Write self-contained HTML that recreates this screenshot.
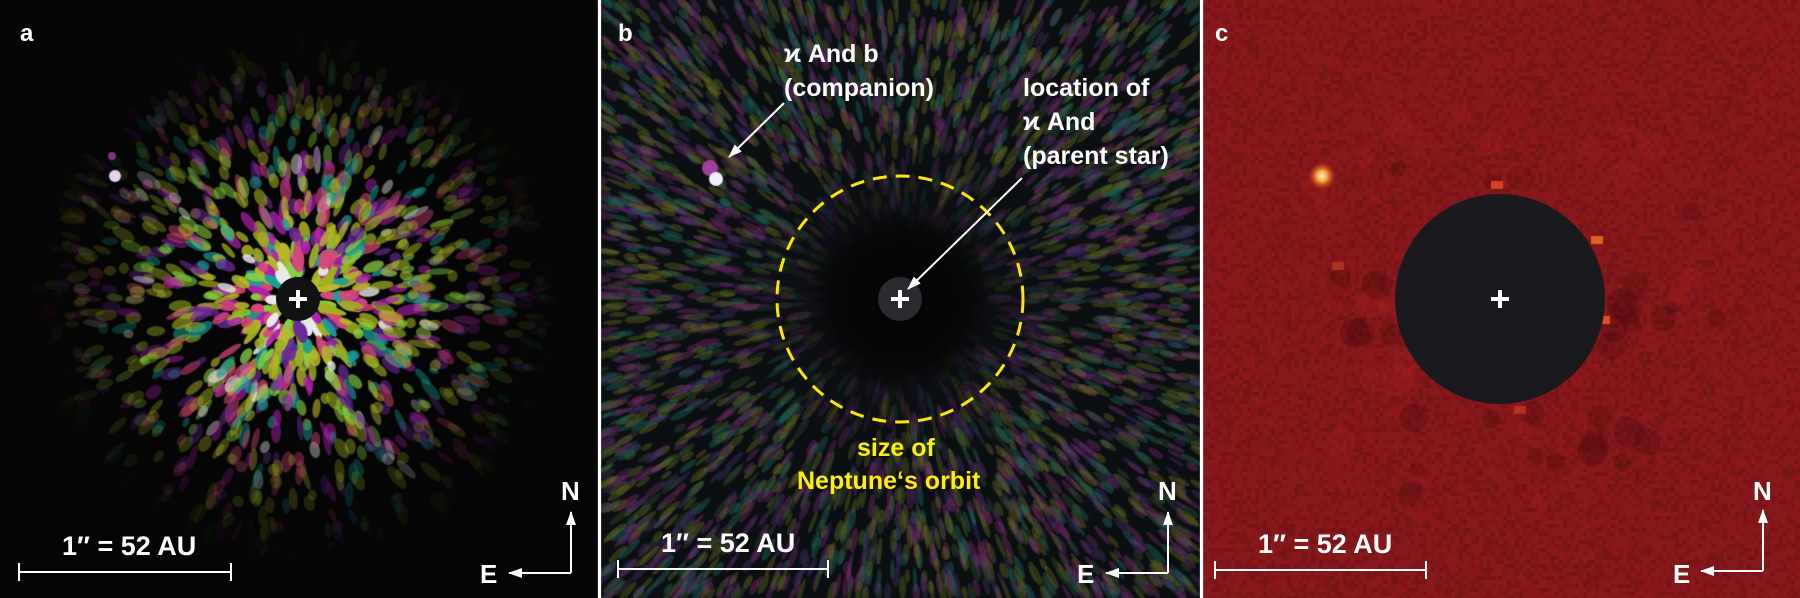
<!DOCTYPE html>
<html><head><meta charset="utf-8"><style>
html,body{margin:0;padding:0;background:#fff}
#w{position:relative;width:1800px;height:598px;overflow:hidden;background:#fff}
canvas{position:absolute;left:0;top:0}
.t{position:absolute;font-family:"Liberation Sans",sans-serif;font-weight:bold;color:#fff;white-space:nowrap;line-height:1}
.y{color:#ffef00}
svg{position:absolute;left:0;top:0}
</style></head><body><div id="w">
<canvas id="c" width="1800" height="598"></canvas>
<svg width="1800" height="598" viewBox="0 0 1800 598">
<defs><marker id="ah2" markerWidth="14" markerHeight="10" refX="13" refY="5" orient="auto" markerUnits="userSpaceOnUse"><path d="M0,0 L14,5 L0,10 Z" fill="#fff"/></marker></defs>
<rect x="598" y="0" width="3" height="598" fill="#fff"/>
<rect x="1200" y="0" width="3" height="598" fill="#fff"/>
<circle cx="298" cy="299" r="22" fill="#111"/>
<circle cx="900" cy="299" r="22" fill="#2a2a2e"/>
<circle cx="1500" cy="299" r="105" fill="#1a191d"/>
<g stroke="#fff" stroke-width="4">
<path d="M289,299h18M298,290v18"/><path d="M891,299h18M900,290v18"/><path d="M1491,299h18M1500,290v18"/>
</g>
<circle cx="900" cy="299" r="123" fill="none" stroke="#ffe600" stroke-width="3" stroke-dasharray="14,9"/>
<g stroke="#fff" stroke-width="2" fill="none">
<path d="M19,572H231M19,563v18M231,563v18"/>
<path d="M618,569H828M618,560v18M828,560v18"/>
<path d="M1215,570H1426M1215,561v18M1426,561v18"/>
<path d="M571,573V512" marker-end="url(#ah2)"/><path d="M571,573H509" marker-end="url(#ah2)"/>
<path d="M1168,573V512" marker-end="url(#ah2)"/><path d="M1168,573H1106" marker-end="url(#ah2)"/>
<path d="M1763,571V510" marker-end="url(#ah2)"/><path d="M1763,571H1701" marker-end="url(#ah2)"/>
<path d="M784,103L729,157" marker-end="url(#ah2)"/>
<path d="M1022,178L908,289" marker-end="url(#ah2)"/>
</g>
</svg>
<div class="t" style="left:20px;top:22px;font-size:24px">a</div>
<div class="t" style="left:618px;top:22px;font-size:24px">b</div>
<div class="t" style="left:1215px;top:22px;font-size:24px">c</div>
<div class="t" style="left:62px;top:533px;font-size:27px">1″ = 52 AU</div>
<div class="t" style="left:661px;top:530px;font-size:27px">1″ = 52 AU</div>
<div class="t" style="left:1258px;top:531px;font-size:27px">1″ = 52 AU</div>
<div class="t" style="left:561px;top:478px;font-size:26px">N</div>
<div class="t" style="left:480px;top:561px;font-size:26px">E</div>
<div class="t" style="left:1158px;top:478px;font-size:26px">N</div>
<div class="t" style="left:1077px;top:561px;font-size:26px">E</div>
<div class="t" style="left:1753px;top:478px;font-size:26px">N</div>
<div class="t" style="left:1673px;top:561px;font-size:26px">E</div>
<div class="t" style="left:784px;top:42px;font-size:25px">ϰ And b</div>
<div class="t" style="left:784px;top:76px;font-size:25px">(companion)</div>
<div class="t" style="left:1023px;top:76px;font-size:25px">location of</div>
<div class="t" style="left:1023px;top:110px;font-size:25px">ϰ And</div>
<div class="t" style="left:1023px;top:144px;font-size:25px">(parent star)</div>
<div class="t y" style="left:857px;top:436px;font-size:25px">size of</div>
<div class="t y" style="left:797px;top:469px;font-size:25px">Neptune‘s orbit</div>
</div>
<script>
(function(){
var c=document.getElementById('c').getContext('2d');
var s=12345;function r(){s=(s*16807)%2147483647;return s/2147483647;}
// panel a
c.fillStyle='#050505';c.fillRect(0,0,598,598);
var colsA=['#b020b0','#a0b020','#18a098','#d84878','#88d040','#e8e8e8','#6a2a9a','#b8b828'];
c.save();c.beginPath();c.rect(0,0,598,598);c.clip();
for(var i=0;i<1400;i++){var a=r()*6.283,d=25+Math.pow(r(),0.9)*250;var x=298+Math.cos(a)*d,y=299+Math.sin(a)*d;
var al=Math.max(0,1-d/265);al=Math.pow(al,1.3);c.globalAlpha=Math.min(1,al*1.2);var ci=Math.floor(r()*colsA.length);if(ci==5&&r()<0.6)ci=1;c.fillStyle=colsA[ci];
c.save();c.translate(x,y);c.rotate(a+(r()-0.5)*0.6);c.beginPath();c.ellipse(0,0,5+r()*9,3+r()*3,0,0,6.283);c.fill();c.restore();}
c.globalAlpha=1;c.fillStyle='#e8d0f0';c.beginPath();c.arc(115,176,6,0,6.283);c.fill();
c.fillStyle='#803080';c.beginPath();c.arc(112,156,4,0,6.283);c.fill();
c.restore();
// panel b
c.fillStyle='#0c0f12';c.fillRect(601,0,599,598);
c.save();c.beginPath();c.rect(601,0,599,598);c.clip();
var colsB=['#6a2a70','#5a6a20','#1e6a60','#40306a','#304a30','#7a2a6a','#6a6a20'];
for(var i=0;i<3800;i++){var x=601+r()*600,y=r()*598;var dx=x-900,dy=y-299,d=Math.sqrt(dx*dx+dy*dy),a=Math.atan2(dy,dx);
if(d<60)continue;c.globalAlpha=Math.min(1,(d-60)/120)*0.4;c.fillStyle=colsB[Math.floor(r()*colsB.length)];
c.save();c.translate(x,y);c.rotate(a);c.beginPath();c.ellipse(0,0,6+r()*8,2+r()*2,0,0,6.283);c.fill();c.restore();}
c.globalAlpha=1;var g=c.createRadialGradient(900,299,0,900,299,95);g.addColorStop(0,'#040404');g.addColorStop(0.7,'rgba(4,4,4,0.8)');g.addColorStop(1,'rgba(4,4,4,0)');
c.fillStyle=g;c.fillRect(800,200,200,200);
c.fillStyle='#a040a0';c.beginPath();c.arc(710,168,8,0,6.283);c.fill();
c.fillStyle='#f4ecff';c.beginPath();c.arc(716,179,7,0,6.283);c.fill();
c.restore();
// panel c
c.fillStyle='#86181b';c.fillRect(1203,0,597,598);
for(var x=1203;x<1800;x+=4)for(var y=0;y<598;y+=4){var v=r();c.fillStyle='rgba('+(v>0.5?'170,35,30,':'30,0,0,')+(Math.abs(v-0.5)*0.35)+')';c.fillRect(x,y,4,4);}
for(var i=0;i<60;i++){var a=r()*6.283,d=110+r()*110;c.fillStyle=r()<0.5?'rgba(40,0,0,0.18)':'rgba(190,40,30,0.18)';c.beginPath();c.arc(1500+Math.cos(a)*d,299+Math.sin(a)*d,6+r()*10,0,6.283);c.fill();}
var sp=[[1497,185,'#d84020'],[1597,240,'#e06020'],[1604,320,'#e05020'],[1338,266,'#b03020'],[1520,410,'#b83020']];
for(var i=0;i<sp.length;i++){c.fillStyle=sp[i][2];c.fillRect(sp[i][0]-6,sp[i][1]-4,12,8);}
var g2=c.createRadialGradient(1322,176,0,1322,176,14);g2.addColorStop(0,'#fff8e0');g2.addColorStop(0.4,'#f8a030');g2.addColorStop(1,'rgba(200,40,20,0)');
c.fillStyle=g2;c.fillRect(1300,155,44,44);
})();
</script>
</body></html>
